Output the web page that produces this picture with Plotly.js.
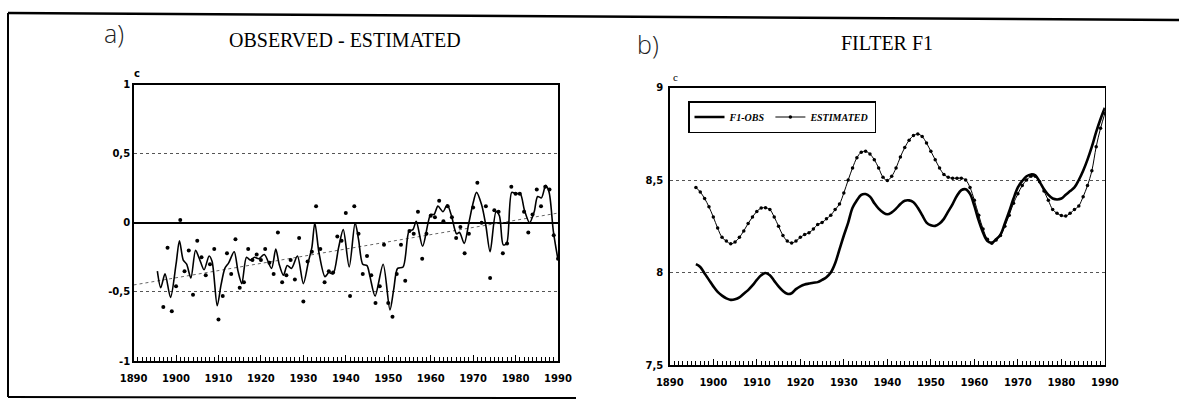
<!DOCTYPE html>
<html>
<head>
<meta charset="utf-8">
<script src="https://cdn.plot.ly/plotly-3.0.1.min.js"></script>
<style>html,body{margin:0;padding:0;background:#fff;}#chart{width:1179px;height:401px;}</style>
</head>
<body>
<div id="chart"></div>
<script>
// ---------- Panel a: OBSERVED - ESTIMATED ----------
const obsStartYear = 1897;
const obsDiff = [-0.61,-0.18,-0.64,-0.46,0.02,-0.35,-0.20,-0.52,-0.13,-0.25,
  -0.38,-0.30,-0.19,-0.70,-0.53,-0.22,-0.37,-0.12,-0.47,-0.43,
  -0.19,-0.27,-0.23,-0.27,-0.19,-0.29,-0.37,-0.07,-0.43,-0.38,
  -0.27,-0.41,-0.11,-0.57,-0.28,-0.21,0.12,-0.19,-0.43,-0.35,
  -0.36,-0.10,-0.13,0.07,-0.53,0.12,-0.08,-0.37,-0.24,-0.38,
  -0.58,-0.46,-0.16,-0.58,-0.68,-0.37,-0.16,-0.42,-0.06,-0.08,
  0.08,-0.26,-0.08,0.05,0.04,0.16,0.01,0.12,0.04,-0.11,
  -0.03,-0.22,-0.08,0.11,0.29,0.00,0.12,-0.40,0.09,0.08,
  -0.22,-0.15,0.26,0.21,0.21,0.08,-0.07,0.06,0.24,0.12,
  0.26,0.24,-0.09,-0.26];
const obsYears = obsDiff.map((v, i) => obsStartYear + i);

const smoothYears = [1895.6,1896.4,1897.4,1898.7,1900.0,1900.8,1901.7,1902.5,1903.5,1904.6,
  1905.5,1906.6,1907.8,1908.5,1909.7,1910.6,1911.5,1912.4,1913.7,1914.6,
  1915.5,1916.6,1917.5,1918.5,1919.5,1920.8,1922.5,1923.5,1924.3,1925.3,
  1926.2,1927.2,1928.6,1930.0,1931.2,1932.0,1932.7,1933.7,1935.1,1936.0,
  1937.0,1938.3,1939.4,1940.8,1942.2,1943.0,1944.0,1945.0,1945.7,1946.9,
  1948.8,1950.4,1951.3,1952.2,1953.5,1954.9,1955.8,1956.6,1958.1,1960.0,
  1960.8,1961.7,1962.9,1963.9,1964.9,1966.1,1966.8,1967.9,1969.0,1969.9,
  1970.8,1972.0,1973.0,1974.0,1975.4,1976.2,1977.1,1977.9,1979.1,1980.0,
  1981.1,1982.1,1983.3,1984.4,1985.2,1986.1,1987.1,1987.9,1988.9,1989.9];
const smoothVals = [-0.35,-0.47,-0.37,-0.54,-0.30,-0.13,-0.27,-0.30,-0.40,-0.20,
  -0.26,-0.34,-0.24,-0.28,-0.60,-0.45,-0.33,-0.29,-0.21,-0.35,
  -0.44,-0.25,-0.27,-0.25,-0.26,-0.23,-0.33,-0.19,-0.30,-0.38,
  -0.31,-0.33,-0.24,-0.44,-0.28,-0.18,0.00,-0.22,-0.39,-0.36,
  -0.37,-0.18,-0.05,-0.32,0.00,-0.12,-0.30,-0.31,-0.39,-0.53,
  -0.30,-0.63,-0.48,-0.33,-0.32,-0.06,-0.05,0.01,-0.17,0.06,
  0.06,0.12,0.08,0.13,0.05,-0.08,-0.07,-0.15,0.00,0.13,
  0.22,0.13,-0.02,-0.21,0.08,0.05,-0.16,-0.15,0.22,0.21,
  0.21,0.09,0.00,0.08,0.19,0.18,0.27,0.22,-0.06,-0.25];

const trendYears = [1890, 1990];
const trendVals = [-0.45, 0.07];

// ---------- Panel b: FILTER F1 ----------
const filtStartYear = 1896;
const f1Obs = [8.045,8.03,7.995,7.96,7.925,7.895,7.875,7.86,7.852,7.855,
  7.865,7.885,7.905,7.93,7.96,7.985,7.997,7.985,7.955,7.925,
  7.90,7.885,7.888,7.91,7.925,7.935,7.94,7.945,7.948,7.96,
  7.975,8.00,8.05,8.125,8.20,8.27,8.35,8.39,8.42,8.424,
  8.41,8.375,8.345,8.325,8.315,8.325,8.345,8.37,8.388,8.39,
  8.38,8.35,8.31,8.27,8.255,8.252,8.265,8.29,8.33,8.37,
  8.415,8.445,8.45,8.425,8.36,8.28,8.215,8.17,8.161,8.18,
  8.205,8.265,8.33,8.40,8.46,8.495,8.52,8.53,8.525,8.49,
  8.45,8.42,8.40,8.395,8.40,8.42,8.44,8.46,8.50,8.55,
  8.61,8.68,8.76,8.83,8.89];
const estimated = [8.46,8.435,8.40,8.355,8.30,8.24,8.19,8.17,8.155,8.165,
  8.19,8.225,8.265,8.30,8.33,8.348,8.35,8.34,8.30,8.25,
  8.20,8.17,8.16,8.17,8.19,8.205,8.215,8.235,8.26,8.27,
  8.29,8.31,8.34,8.37,8.43,8.50,8.565,8.62,8.65,8.655,
  8.64,8.61,8.565,8.515,8.497,8.52,8.565,8.625,8.675,8.715,
  8.74,8.749,8.735,8.70,8.655,8.61,8.565,8.53,8.515,8.51,
  8.51,8.51,8.50,8.46,8.39,8.31,8.235,8.18,8.158,8.175,
  8.20,8.25,8.31,8.375,8.425,8.47,8.50,8.52,8.52,8.49,
  8.44,8.39,8.34,8.32,8.308,8.305,8.32,8.34,8.36,8.41,
  8.47,8.55,8.68,8.78,8.86];
const filtYears = f1Obs.map((v, i) => filtStartYear + i);

const xTickVals = [1890,1900,1910,1920,1930,1940,1950,1960,1970,1980,1990];
const xTickText = ['1890','1900','1910','1920','1930','1940','1950','1960','1970','1980','1990'];
const yaTickVals = [-1,-0.5,0,0.5,1];
const yaTickText = ['-1','-0,5','0','0,5','1'];
const ybTickVals = [7.5,8,8.5,9];
const ybTickText = ['7,5','8','8,5','9'];

const W = 1179, H = 401;
const px = v => v / W;
const py = v => 1 - v / H;

const tickFont = {family: 'DejaVu Sans', size: 10, color: '#000', weight: 'bold'};

const traces = [
  {x: trendYears, y: trendVals, xaxis: 'x', yaxis: 'y', mode: 'lines',
   line: {color: '#666', width: 1, dash: 'dot'}, showlegend: false, hoverinfo: 'skip'},
  {x: smoothYears, y: smoothVals, xaxis: 'x', yaxis: 'y', mode: 'lines',
   line: {color: '#000', width: 1.6, shape: 'spline', smoothing: 0.8}, showlegend: false},
  {x: obsYears, y: obsDiff, xaxis: 'x', yaxis: 'y', mode: 'markers',
   marker: {color: '#000', size: 4}, showlegend: false},
  {x: filtYears, y: f1Obs, xaxis: 'x2', yaxis: 'y2', mode: 'lines', name: 'F1-OBS',
   line: {color: '#000', width: 2.6, shape: 'spline'}},
  {x: filtYears, y: estimated, xaxis: 'x2', yaxis: 'y2', mode: 'lines+markers', name: 'ESTIMATED',
   line: {color: '#000', width: 1, shape: 'spline'}, marker: {color: '#000', size: 3.5}}
];

const xCommon = {
  range: [1890, 1990], tickvals: xTickVals, ticktext: xTickText,
  showline: true, mirror: true, linecolor: '#000', linewidth: 1.5,
  ticks: 'inside', ticklen: 6, tickwidth: 1, tickcolor: '#000',
  minor: {dtick: 1, tick0: 1890, ticks: 'inside', ticklen: 4, tickwidth: 1, tickcolor: '#000', showgrid: false},
  showgrid: false, zeroline: false, tickfont: tickFont, ticklabelstandoff: 7, fixedrange: true
};
const yCommon = {
  showline: true, mirror: true, linecolor: '#000', linewidth: 1.5,
  ticks: '', showgrid: true, gridcolor: '#555', griddash: 'dot', gridwidth: 1,
  tickfont: tickFont, fixedrange: true
};

const ann = (text, x, y, font) => ({text: text, x: px(x), y: py(y), xref: 'paper', yref: 'paper',
  xanchor: 'center', yanchor: 'middle', showarrow: false, font: font});

const layout = {
  width: W, height: H,
  margin: {l: 0, r: 0, t: 0, b: 0},
  paper_bgcolor: '#fff', plot_bgcolor: '#fff',
  xaxis: Object.assign({}, xCommon, {domain: [px(133.6), px(558)], anchor: 'y'}),
  yaxis: Object.assign({}, yCommon, {domain: [py(361), py(84.5)], anchor: 'x', range: [-1, 1],
    tickvals: yaTickVals, ticktext: yaTickText, zeroline: true, zerolinecolor: '#000', zerolinewidth: 2}),
  xaxis2: Object.assign({}, xCommon, {domain: [px(669.8), px(1104.9)], anchor: 'y2'}),
  yaxis2: Object.assign({}, yCommon, {domain: [py(365), py(87.5)], anchor: 'x2', range: [7.5, 9],
    tickvals: ybTickVals, ticktext: ybTickText, zeroline: false, ticklabelstandoff: 3}),
  legend: {orientation: 'h', x: px(688), y: py(101), xanchor: 'left', yanchor: 'top',
    bordercolor: '#000', borderwidth: 1.5, bgcolor: '#fff',
    font: {family: 'Liberation Serif', size: 10, color: '#000', style: 'italic', weight: 'bold'},
    itemwidth: 30, tracegroupgap: 0},
  showlegend: true,
  annotations: [
    ann('a)', 114, 33, {family: 'Open Sans', size: 25, color: '#222', weight: 300}),
    ann('OBSERVED - ESTIMATED', 345, 40, {family: 'Liberation Serif', size: 20, color: '#000'}),
    ann('b)', 648, 44, {family: 'Open Sans', size: 25, color: '#222', weight: 300}),
    ann('FILTER F1', 887, 43, {family: 'Liberation Serif', size: 20, color: '#000'}),
    ann('c', 137, 73, {family: 'DejaVu Sans', size: 10, color: '#000', weight: 'bold'}),
    ann('c', 675, 77, {family: 'Liberation Serif', size: 11, color: '#000'})
  ],
  shapes: [
    {type: 'line', xref: 'paper', yref: 'paper', x0: px(8), y0: py(13), x1: 1, y1: py(20), line: {color: '#000', width: 2.5}},
    {type: 'line', xref: 'paper', yref: 'paper', x0: px(8), y0: py(13), x1: px(8), y1: py(397), line: {color: '#000', width: 2}},
    {type: 'line', xref: 'paper', yref: 'paper', x0: px(8), y0: py(397), x1: px(576), y1: py(398), line: {color: '#000', width: 2}}
  ]
};

Plotly.newPlot('chart', traces, layout, {staticPlot: true, displayModeBar: false});
</script>
</body>
</html>
